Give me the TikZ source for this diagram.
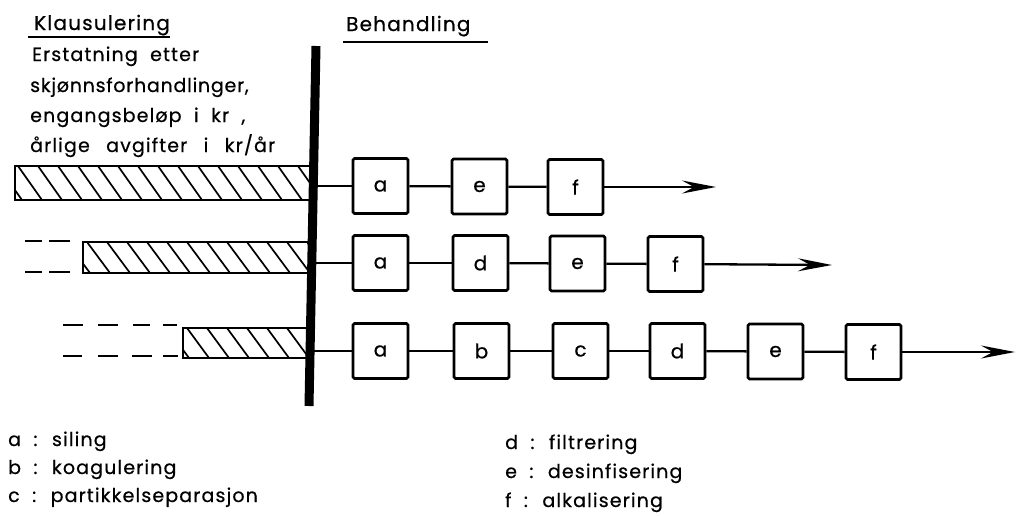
\documentclass[tikz,border=0pt]{standalone}
\usepackage{fontspec}
\setmainfont{Poppins}[LetterSpace=6,WordSpace=2,FakeBold=0.6]
\usetikzlibrary{arrows.meta}
\begin{document}
\begin{tikzpicture}[x=1pt,y=-1pt,
  txt/.style={anchor=base west,inner sep=0pt,font=\fontsize{19}{22}\selectfont},
  title/.style={anchor=base west,inner sep=0pt,font=\fontsize{20}{22}\selectfont},
  proc/.style={draw,line width=2.8pt,rounded corners=1.5pt,minimum width=55pt,minimum height=55pt,inner sep=0pt,font=\fontsize{20}{22}\selectfont},
  conn/.style={line width=2.3pt},
  flow/.style={line width=2.3pt,-{Stealth[length=34pt,width=13pt,inset=12pt]}},
  bar/.style={line width=2.6pt},
  hatch/.style={line width=1.7pt},
  dsh/.style={line width=2.2pt},
  leg/.style={anchor=base west,inner sep=0pt,font=\fontsize{19}{22}\selectfont}]
\useasboundingbox (0,0) rectangle (1018,515);

% titles
\node[title] (kl) at (34,30) {Klausulering};
\draw[line width=2pt] (28,37) -- (170,37);
\node[title] (be) at (346,31) {Behandling};
\draw[line width=2pt] (343,42) -- (488,42);

\node[txt] (t1) at (32,61) {Erstatning etter};
\node[txt] (t2) at (30,92) {\addfontfeature{LetterSpace=4}skjønnsforhandlinger,};
\node[txt] (t3) at (30,122) {engangsbeløp i kr ,};
\node[txt] (t4) at (30,152) {årlige\hspace{4pt} avgifter\hspace{4pt} i\hspace{4pt} kr/år};

% hatched bars
\begin{scope}
\clip (15,166) rectangle (310,200);
\foreach \k in {-1,...,15} \draw[hatch] (18+20*\k,166) -- (18+20*\k+24,200);
\end{scope}
\draw[bar] (310,166) -- (15,166) -- (15,200) -- (310,200);

\begin{scope}
\clip (83,242) rectangle (308,273);
\foreach \k in {-1,...,12} \draw[hatch] (87+20*\k,242) -- (87+20*\k+23,273);
\end{scope}
\draw[bar] (308,242) -- (83,242) -- (83,273) -- (308,273);

\begin{scope}
\clip (183,328) rectangle (306,358);
\foreach \k in {-1,...,6} \draw[hatch] (187+20*\k,328) -- (187+20*\k+22,358);
\end{scope}
\draw[bar] (306,328) -- (183,328) -- (183,358) -- (306,358);

% dashes
\draw[dsh] (25,241) -- (42,241) (49,241) -- (70,241);
\draw[dsh] (25,272) -- (42,272) (49,272) -- (70,272);
\draw[dsh] (63,325) -- (83,325) (98,325) -- (118,325) (133,325) -- (150,325) (163,325) -- (177,325);
\draw[dsh] (63,356) -- (82,356) (98,356) -- (118,356) (132,356) -- (152,356) (163,356) -- (178,356);

% vertical line
\draw[line width=9pt] (316,46) -- (309,406);
\coordinate (v1) at (314,186);
\coordinate (v2) at (312,263);
\coordinate (v3) at (311,351);

% row 1
\node[proc] (r1a) at (380.5,186) {a};
\node[proc] (r1e) at (479.5,186.5) {e};
\node[proc] (r1f) at (575.5,187) {f};
\coordinate (e1) at (716,187);
\draw[conn] (v1) -- (r1a);
\draw[conn] (r1a) -- (r1e);
\draw[conn] (r1e) -- (r1f);
\draw[flow] (r1f) -- (e1);

% row 2
\node[proc] (r2a) at (380.5,263) {a};
\node[proc] (r2d) at (480.5,263) {d};
\node[proc] (r2e) at (577.5,263.5) {e};
\node[proc] (r2f) at (675.5,264) {f};
\coordinate (e2) at (832,265);
\draw[conn] (v2) -- (r2a);
\draw[conn] (r2a) -- (r2d);
\draw[conn] (r2d) -- (r2e);
\draw[conn] (r2e) -- (r2f);
\draw[flow] (r2f) -- (e2);

% row 3
\node[proc] (r3a) at (380.5,351) {a};
\node[proc] (r3b) at (481.5,351) {b};
\node[proc] (r3c) at (580.5,351) {c};
\node[proc] (r3d) at (677.5,351) {d};
\node[proc] (r3e) at (775.5,351.5) {e};
\node[proc] (r3f) at (873.5,352) {f};
\coordinate (e3) at (1015,352);
\draw[conn] (v3) -- (r3a);
\draw[conn] (r3a) -- (r3b);
\draw[conn] (r3b) -- (r3c);
\draw[conn] (r3c) -- (r3d);
\draw[conn] (r3d) -- (r3e);
\draw[conn] (r3e) -- (r3f);
\draw[flow] (r3f) -- (e3);

% legend
\node[leg] (la) at (8,446) {a : siling};
\node[leg] (lb) at (8,474) {b : koagulering};
\node[leg] (lc) at (8,502) {c : partikkelseparasjon};
\node[leg] (ld) at (505,449) {d : filtrering};
\node[leg] (le) at (505,478) {e : desinfisering};
\node[leg] (lf) at (505,507) {f : alkalisering};
\end{tikzpicture}
\end{document}
